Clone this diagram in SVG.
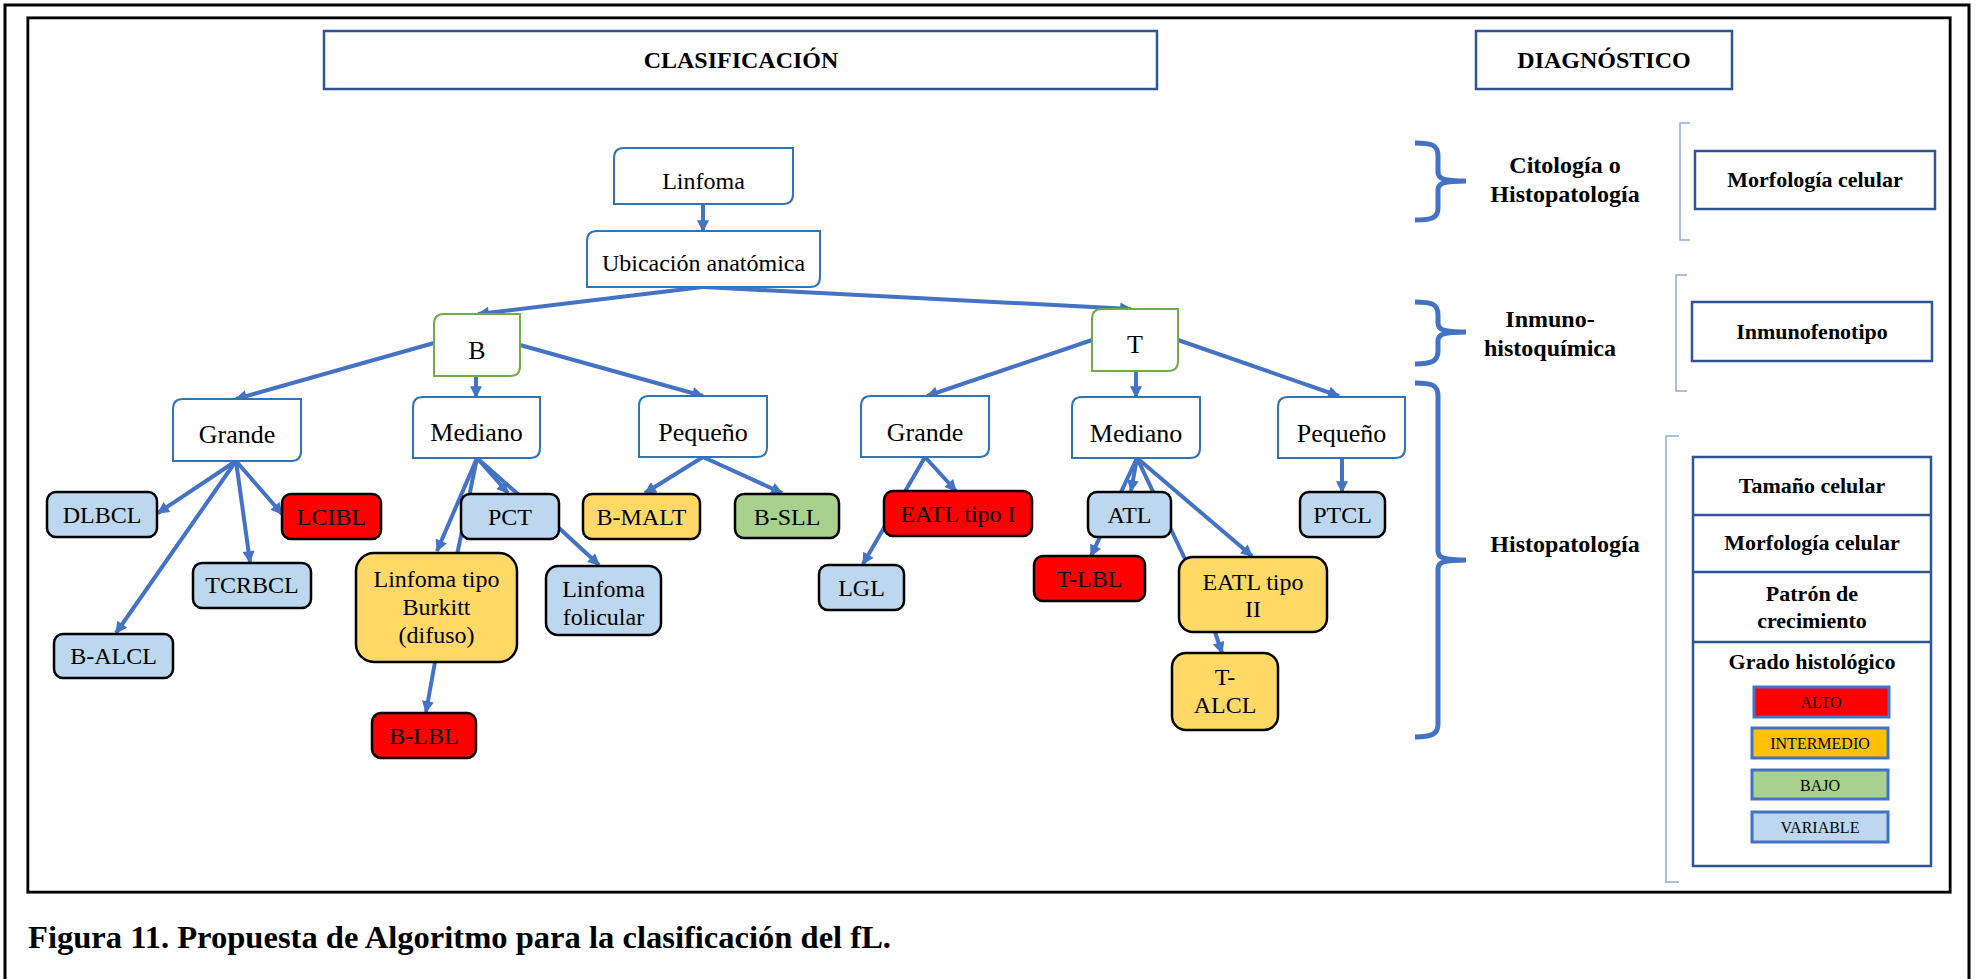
<svg xmlns="http://www.w3.org/2000/svg" width="1979" height="979" viewBox="0 0 1979 979">
<style>
text{font-family:"Liberation Serif","Times New Roman",serif;fill:#000;text-anchor:middle}
.hdr{font-size:24px;font-weight:bold}
.lbl{font-size:24px;font-weight:bold}
.tbl{font-size:22px;font-weight:bold}
.n1{font-size:24px}
.n2{font-size:26px}
.lf{font-size:24px}
.lg{font-size:16px}
.cap{font-size:32.5px;font-weight:bold;text-anchor:start}
.hbox{fill:#fff;stroke:#2F5597;stroke-width:2.5}
.rd{fill:#fff;stroke:#2E75B6;stroke-width:2}
.gr{fill:#fff;stroke:#70AD47;stroke-width:2}
.leaf{stroke:#000;stroke-width:2.5}
.vb{fill:#BDD7EE}.rr{fill:#FF0000}.yy{fill:#FFD966}.gg{fill:#A9D18E}
.leg{stroke:#4472C4;stroke-width:3}
.c{stroke:#4472C4;stroke-width:4;fill:none}
.a{marker-end:url(#ah)}
.brace{stroke:#4472C4;stroke-width:5;fill:none;stroke-linecap:butt}
.brk{stroke:#8FAADC;stroke-width:1.5;fill:none}
</style>
<defs>
<marker id="ah" viewBox="0 0 10 10" refX="9" refY="5" markerWidth="13" markerHeight="12" markerUnits="userSpaceOnUse" orient="auto">
<path d="M0,0 L10,5 L0,10 z" fill="#4472C4"/>
</marker>
</defs>
<rect x="0" y="0" width="1979" height="979" fill="#fff"/>
<path d="M5,985 V5 H1969 V985" fill="none" stroke="#000" stroke-width="3"/>
<rect x="26.5" y="16.5" width="1925" height="877" fill="none" stroke="#999" stroke-width="1"/>
<rect x="28" y="18" width="1922" height="874" fill="none" stroke="#000" stroke-width="2.5"/>

<g id="connectors">
<line class="c a" x1="703" y1="204" x2="703" y2="231"/>
<line class="c a" x1="703" y1="287" x2="478" y2="314"/>
<line class="c a" x1="703" y1="287" x2="1131" y2="309"/>
<line class="c a" x1="434" y1="343" x2="236" y2="399"/>
<line class="c a" x1="476" y1="376" x2="476" y2="397"/>
<line class="c a" x1="520" y1="345" x2="703" y2="396"/>
<line class="c a" x1="236" y1="461" x2="158" y2="513"/>
<line class="c a" x1="236" y1="461" x2="116" y2="633"/>
<line class="c a" x1="236" y1="461" x2="250" y2="562"/>
<line class="c a" x1="236" y1="461" x2="282" y2="514"/>
<line class="c a" x1="477" y1="458" x2="437" y2="551"/>
<line class="c" x1="477" y1="458" x2="457" y2="555"/>
<line class="c a" x1="477" y1="458" x2="508" y2="493"/>
<line class="c" x1="477" y1="458" x2="519" y2="495"/>
<line class="c a" x1="559" y1="528" x2="599" y2="565"/>
<line class="c a" x1="435" y1="662" x2="426" y2="712"/>
<line class="c a" x1="703" y1="457" x2="645" y2="493"/>
<line class="c a" x1="703" y1="457" x2="782" y2="493"/>
<line class="c a" x1="1092" y1="340" x2="927" y2="396"/>
<line class="c a" x1="1136" y1="371" x2="1136" y2="397"/>
<line class="c a" x1="1178" y1="340" x2="1339" y2="396"/>
<line class="c a" x1="925" y1="457" x2="956" y2="491"/>
<line class="c a" x1="925" y1="457" x2="863" y2="564"/>
<line class="c a" x1="1137" y1="458" x2="1131" y2="491"/>
<line class="c a" x1="1137" y1="458" x2="1091" y2="556"/>
<line class="c" x1="1137" y1="458" x2="1185" y2="559"/>
<line class="c a" x1="1137" y1="458" x2="1252" y2="556"/>
<line class="c a" x1="1342" y1="458" x2="1342" y2="492"/>
<line class="c a" x1="1215" y1="632" x2="1222" y2="653"/>
</g>

<g id="hdr-clasificacion"><rect class="hbox" x="324" y="31" width="833" height="58"/><text class="hdr" x="741" y="68">CLASIFICACIÓN</text></g>
<g id="hdr-diagnostico"><rect class="hbox" x="1476" y="31" width="256" height="58"/><text class="hdr" x="1604" y="68">DIAGNÓSTICO</text></g>

<g id="n-linfoma"><path class="rd" d="M624,148 H793 V194 Q793,204 783,204 H614 V158 Q614,148 624,148 Z"/><text class="n1" x="703.5" y="189">Linfoma</text></g>
<g id="n-ubicacion"><path class="rd" d="M597,231 H820 V277 Q820,287 810,287 H587 V241 Q587,231 597,231 Z"/><text class="n1" x="703.5" y="271">Ubicación anatómica</text></g>
<g id="n-B"><path class="gr" d="M444,314 H520 V366 Q520,376 510,376 H434 V324 Q434,314 444,314 Z"/><text class="n2" x="477" y="359">B</text></g>
<g id="n-T"><path class="gr" d="M1102,309 H1178 V361 Q1178,371 1168,371 H1092 V319 Q1092,309 1102,309 Z"/><text class="n2" x="1135" y="353">T</text></g>

<g id="n-grande-b"><path class="rd" d="M183,399 H301 V451 Q301,461 291,461 H173 V409 Q173,399 183,399 Z"/><text class="n2" x="237" y="443">Grande</text></g>
<g id="n-mediano-b"><path class="rd" d="M423,397 H540 V448 Q540,458 530,458 H413 V407 Q413,397 423,397 Z"/><text class="n2" x="476.5" y="441">Mediano</text></g>
<g id="n-pequeno-b"><path class="rd" d="M649,396 H767 V447 Q767,457 757,457 H639 V406 Q639,396 649,396 Z"/><text class="n2" x="703" y="441">Pequeño</text></g>
<g id="n-grande-t"><path class="rd" d="M871,396 H989 V447 Q989,457 979,457 H861 V406 Q861,396 871,396 Z"/><text class="n2" x="925" y="441">Grande</text></g>
<g id="n-mediano-t"><path class="rd" d="M1082,397 H1200 V448 Q1200,458 1190,458 H1072 V407 Q1072,397 1082,397 Z"/><text class="n2" x="1136" y="442">Mediano</text></g>
<g id="n-pequeno-t"><path class="rd" d="M1288,397 H1405 V448 Q1405,458 1395,458 H1278 V407 Q1278,397 1288,397 Z"/><text class="n2" x="1341.5" y="442">Pequeño</text></g>

<g id="n-dlbcl"><rect class="leaf vb" x="47" y="492" width="110" height="45" rx="9"/><text class="lf" x="102" y="523">DLBCL</text></g>
<g id="n-lcibl"><rect class="leaf rr" x="282" y="494" width="99" height="45" rx="9"/><text class="lf" x="331.5" y="525">LCIBL</text></g>
<g id="n-tcrbcl"><rect class="leaf vb" x="193" y="563" width="118" height="45" rx="9"/><text class="lf" x="252" y="593">TCRBCL</text></g>
<g id="n-balcl"><rect class="leaf vb" x="54" y="634" width="119" height="44" rx="9"/><text class="lf" x="113.5" y="664">B-ALCL</text></g>
<g id="n-pct"><rect class="leaf vb" x="461" y="494" width="98" height="45" rx="9"/><text class="lf" x="510" y="525">PCT</text></g>
<g id="n-burkitt"><rect class="leaf yy" x="356" y="553" width="161" height="109" rx="18"/><text class="lf" x="436.5" y="587">Linfoma tipo</text><text class="lf" x="436.5" y="615">Burkitt</text><text class="lf" x="436.5" y="643">(difuso)</text></g>
<g id="n-folicular"><rect class="leaf vb" x="546" y="566" width="115" height="69" rx="12"/><text class="lf" x="603.5" y="597">Linfoma</text><text class="lf" x="603.5" y="625">folicular</text></g>
<g id="n-blbl"><rect class="leaf rr" x="372" y="713" width="104" height="45" rx="9"/><text class="lf" x="424" y="744">B-LBL</text></g>
<g id="n-bmalt"><rect class="leaf yy" x="583" y="494" width="117" height="45" rx="9"/><text class="lf" x="641.5" y="525">B-MALT</text></g>
<g id="n-bsll"><rect class="leaf gg" x="735" y="494" width="104" height="44" rx="9"/><text class="lf" x="787" y="525">B-SLL</text></g>
<g id="n-eatl1"><rect class="leaf rr" x="884" y="491" width="148" height="45" rx="9"/><text class="lf" x="958" y="522">EATL tipo I</text></g>
<g id="n-lgl"><rect class="leaf vb" x="819" y="565" width="85" height="45" rx="9"/><text class="lf" x="861.5" y="596">LGL</text></g>
<g id="n-atl"><rect class="leaf vb" x="1088" y="492" width="83" height="45" rx="9"/><text class="lf" x="1129.5" y="523">ATL</text></g>
<g id="n-tlbl"><rect class="leaf rr" x="1034" y="556" width="111" height="45" rx="9"/><text class="lf" x="1089.5" y="587">T-LBL</text></g>
<g id="n-eatl2"><rect class="leaf yy" x="1179" y="557" width="148" height="75" rx="14"/><text class="lf" x="1253" y="590">EATL tipo</text><text class="lf" x="1253" y="617">II</text></g>
<g id="n-talcl"><rect class="leaf yy" x="1172" y="653" width="106" height="77" rx="14"/><text class="lf" x="1225" y="685">T-</text><text class="lf" x="1225" y="713">ALCL</text></g>
<g id="n-ptcl"><rect class="leaf vb" x="1300" y="492" width="85" height="45" rx="9"/><text class="lf" x="1342.5" y="523">PTCL</text></g>

<g id="braces">
<path class="brace" d="M1415,143 C1432,143 1438,145 1438,156 L1438,172 C1438,179 1444,181 1466,181 C1444,181 1438,183 1438,190 L1438,208 C1438,218 1432,220 1415,220"/>
<path class="brace" d="M1415,302 C1432,302 1438,304 1438,315 L1438,323 C1438,330 1444,332 1466,332 C1444,332 1438,334 1438,341 L1438,351 C1438,361 1432,364 1415,364"/>
<path class="brace" d="M1415,383 C1432,383 1438,385 1438,396 L1438,551 C1438,558 1444,560 1466,560 C1444,560 1438,562 1438,569 L1438,724 C1438,734 1432,737 1415,737"/>
<path class="brk" d="M1690,123 H1680 V240 H1690"/>
<path class="brk" d="M1687,275 H1676 V391 H1687"/>
<path class="brk" d="M1679,436 H1666 V882 H1679"/>
</g>

<g id="lbl-citologia"><text class="lbl" x="1565" y="173">Citología o</text><text class="lbl" x="1565" y="202">Histopatología</text></g>
<g id="lbl-inmuno"><text class="lbl" x="1550" y="327">Inmuno-</text><text class="lbl" x="1550" y="356">histoquímica</text></g>
<g id="lbl-histo"><text class="lbl" x="1565" y="552">Histopatología</text></g>

<g id="d-morfologia"><rect class="hbox" x="1695" y="151" width="240" height="58"/><text class="tbl" x="1815" y="187">Morfología celular</text></g>
<g id="d-inmunofenotipo"><rect class="hbox" x="1692" y="302" width="240" height="59"/><text class="tbl" x="1812" y="339">Inmunofenotipo</text></g>

<g id="d-tabla">
<rect class="hbox" x="1693" y="457" width="238" height="409"/>
<line x1="1693" y1="515" x2="1931" y2="515" stroke="#2F5597" stroke-width="2.5"/>
<line x1="1693" y1="572" x2="1931" y2="572" stroke="#2F5597" stroke-width="2.5"/>
<line x1="1693" y1="642" x2="1931" y2="642" stroke="#2F5597" stroke-width="2.5"/>
<text class="tbl" x="1812" y="493">Tamaño celular</text>
<text class="tbl" x="1812" y="550">Morfología celular</text>
<text class="tbl" x="1812" y="601">Patrón de</text>
<text class="tbl" x="1812" y="628">crecimiento</text>
<text class="tbl" x="1812" y="669">Grado histológico</text>
<rect class="leg rr" x="1754" y="687" width="135" height="30"/><text class="lg" x="1821" y="708">ALTO</text>
<rect class="leg" fill="#FFC000" x="1752" y="728" width="136" height="30"/><text class="lg" x="1820" y="749">INTERMEDIO</text>
<rect class="leg gg" x="1752" y="770" width="136" height="29"/><text class="lg" x="1820" y="791">BAJO</text>
<rect class="leg vb" x="1752" y="812" width="136" height="30"/><text class="lg" x="1820" y="833">VARIABLE</text>
</g>

<text class="cap" x="28" y="948" textLength="863" lengthAdjust="spacingAndGlyphs">Figura 11. Propuesta de Algoritmo para la clasificación del fL.</text>
</svg>
